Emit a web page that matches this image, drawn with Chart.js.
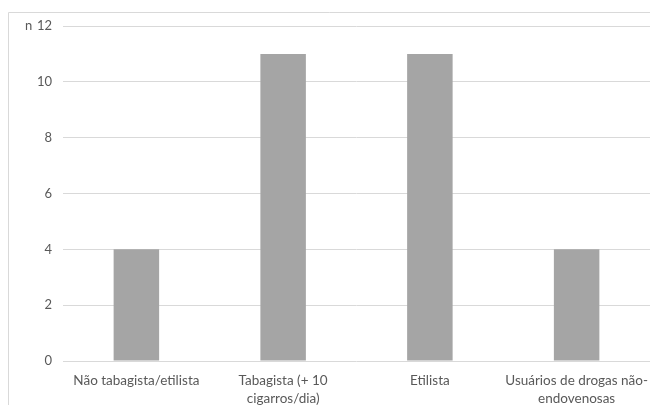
<!DOCTYPE html>
<html>
<head>
<meta charset="utf-8">
<script src="https://cdn.jsdelivr.net/npm/chart.js@4"></script>
<style>
  html, body { margin: 0; padding: 0; background: #fff; }
  #wrap { width: 650px; height: 405px; position: relative; }
</style>
</head>
<body>
<div id="wrap"><canvas id="myChart" width="650" height="405"></canvas></div>
<script>
// Data
const categories = [
    "Não tabagista/etilista",
    ["Tabagista (+ 10", "cigarros/dia)"],
    "Etilista",
    ["Usuários de drogas não-", "endovenosas"]
];
const counts = [4, 11, 11, 4];
const yTicks = [0, 2, 4, 6, 8, 10, 12];

const fontFamily = "Lato, 'Open Sans', sans-serif";
const textColor = "#595959";

// frame + "n" label
const extras = {
    id: "extras",
    beforeDraw(chart) {
        const c = chart.ctx;
        c.save();
        c.strokeStyle = "#d9d9d9";
        c.lineWidth = 1;
        c.beginPath();
        c.moveTo(8.5, 405);
        c.lineTo(8.5, 12.5);
        c.lineTo(650, 12.5);
        c.stroke();
        c.restore();
    },
    afterDraw(chart) {
        const c = chart.ctx;
        const y = chart.scales.y.getPixelForValue(12);
        c.save();
        c.fillStyle = textColor;
        c.font = "13px " + fontFamily;
        c.textAlign = "left";
        c.textBaseline = "middle";
        c.fillText("n", 25, y);
        c.restore();
    }
};

const ctx = document.getElementById("myChart").getContext("2d");
const myChart = new Chart(ctx, {
    type: "bar",
    data: {
        labels: categories,
        datasets: [{
            data: counts,
            backgroundColor: "#a5a5a5",
            categoryPercentage: 1,
            barPercentage: 0.31
        }]
    },
    options: {
        responsive: false,
        animation: false,
        layout: { padding: { top: 26, right: 0, left: 0, bottom: 0 } },
        plugins: {
            legend: { display: false },
            tooltip: { enabled: false }
        },
        scales: {
            x: {
                grid: { display: false },
                border: { display: false },
                ticks: {
                    color: textColor,
                    font: { family: fontFamily, size: 13.5, lineHeight: 1.3 },
                    padding: 3,
                    maxRotation: 0,
                    autoSkip: false
                },
                afterFit(s) {
                    s.height = 44;
                    s.paddingLeft = 0;
                    s.paddingRight = 0;
                }
            },
            y: {
                min: 0,
                max: 12,
                afterBuildTicks(s) { s.ticks = yTicks.map(v => ({ value: v })); },
                grid: { color: "#d9d9d9", drawTicks: false },
                border: { display: false },
                ticks: {
                    color: textColor,
                    font: { family: fontFamily, size: 13 },
                    padding: 11
                },
                afterFit(s) { s.width = 63; }
            }
        }
    },
    plugins: [extras]
});
</script>
</body>
</html>
